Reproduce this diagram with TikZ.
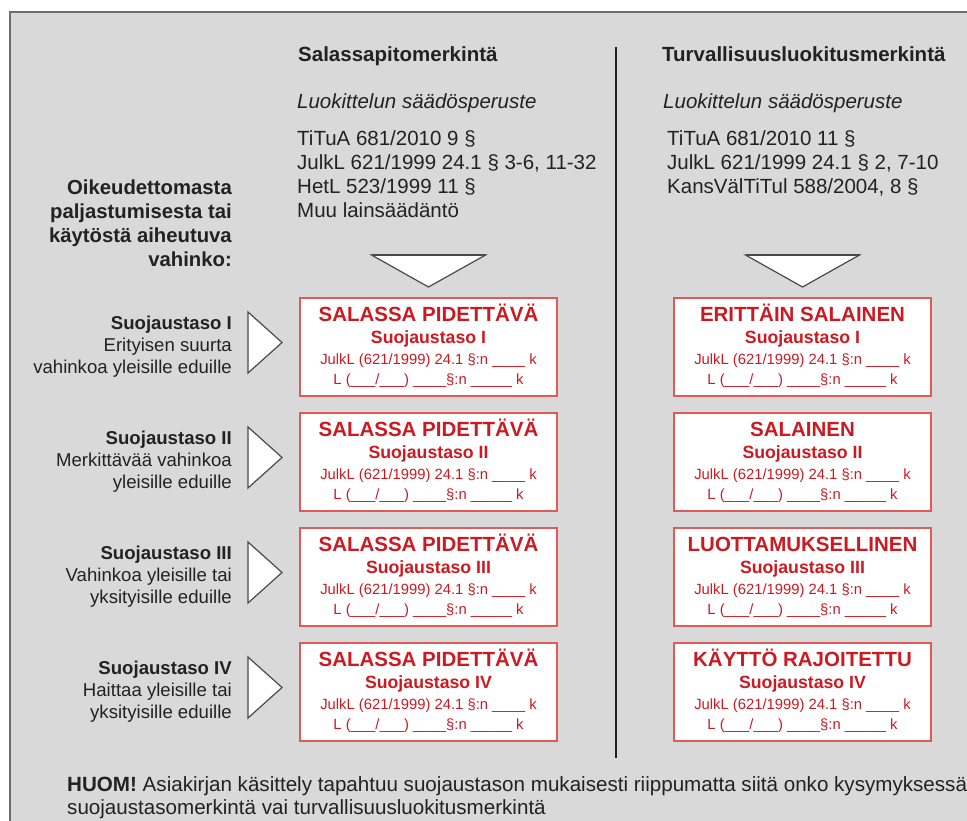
\documentclass[tikz,border=0pt]{standalone}
\usepackage{fontspec}
\setmainfont{Liberation Sans}
\usetikzlibrary{positioning, calc}
\definecolor{ink}{HTML}{222222}
\definecolor{panel}{HTML}{D9D9D9}
\definecolor{frame}{HTML}{6E6E6E}
\definecolor{stampink}{HTML}{CC1A22}
\definecolor{stampedge}{HTML}{E05A5A}
\definecolor{pointer}{HTML}{4A4A4A}
\tikzset{
  every node/.style={text=ink, inner sep=0pt},
  %
  head/.style={font=\fontsize{20.5}{24}\selectfont\bfseries, anchor=base west},
  basis/.style={font=\fontsize{20.5}{24}\selectfont, anchor=base west},
  harm/.style={font=\fontsize{20.3}{24}\selectfont\bfseries, anchor=base east},
  lvl/.style={font=\fontsize{18.6}{22}\selectfont, anchor=base east},
  note/.style={font=\fontsize{20.6}{24}\selectfont, anchor=base west},
  %
  stampbox/.style={draw=stampedge, line width=1.6pt, fill=white,
                   minimum width=257, minimum height=98},
  stamptitle/.style={font=\fontsize{20.5}{24}\selectfont\bfseries, text=stampink, anchor=base},
  stamplvl/.style={font=\fontsize{17.7}{20}\selectfont\bfseries, text=stampink, anchor=base},
  stampline/.style={font=\fontsize{14.8}{17}\selectfont, text=stampink, anchor=base},
  %
  pointer/.style={draw=pointer, line width=1.2pt, fill=white, line join=miter},
  pointertop/.style={draw=pointer, line width=2.6pt},
  divider/.style={draw=ink, line width=1.4pt},
}

\begin{document}
\begin{tikzpicture}[x=1pt, y=1pt]

  \def\L{428.5}  % left stamp column
  \def\R{802.5}  % right stamp column

  \useasboundingbox (0,0) rectangle (967,-821);
  \fill[white] (0,0) rectangle (967,-821);
  \fill[panel] (10,-12) rectangle (967,-821);
  \draw[frame, line width=2.4pt] (10,-821) -- (10,-12) -- (967,-12);

  % --- column heads ------------------------------------------------------
  \node[head] (hs) at (298,-62) {Salassapitomerkintä};
  \node[head] (ht) at (662,-62) {Turvallisuusluokitusmerkintä};
  \coordinate (dtop) at (616,-47);
  \coordinate (dbot) at (616,-758);
  \draw[divider] (dtop) -- (dbot);

  \node[basis, font=\fontsize{20.5}{24}\selectfont\itshape] (ls) at (297,-109) {Luokittelun säädösperuste};
  \node[basis, font=\fontsize{20.5}{24}\selectfont\itshape] (lt) at (663,-109) {Luokittelun säädösperuste};

  \foreach \t [count=\i] in {TiTuA 681/2010 9 §, {JulkL 621/1999 24.1 § 3-6, 11-32},
                             HetL 523/1999 11 §, Muu lainsäädäntö}
    \node[basis] (bs\i) at (297,{-146-23.7*(\i-1)}) {\t};
  \foreach \t [count=\i] in {TiTuA 681/2010 11 §, {JulkL 621/1999 24.1 § 2, 7-10},
                             {KansVälTiTul 588/2004, 8 §}}
    \node[basis] (bt\i) at (667,{-146-23.7*(\i-1)}) {\t};

  % --- funnels ------------------------------------------------------------
  \foreach \x in {\L,\R} {
    \draw[pointer] (\x-57,-255) -- (\x+57,-255) -- (\x,-287) -- cycle;
    \draw[pointertop] (\x-57,-255) -- (\x+57,-255);
  }

  % --- harm ---------------------------------------------------------------
  \foreach \t [count=\i] in {Oikeudettomasta, paljastumisesta tai, käytöstä aiheutuva, vahinko:}
    \node[harm] (h\i) at (232,{-195-24*(\i-1)}) {\t};

  % --- levels and stamps --------------------------------------------------
  \foreach \lv/\top/\rt/\ta/\tb in {I/298/ERITTÄIN SALAINEN/Erityisen suurta/vahinkoa yleisille eduille,
                                  II/413/SALAINEN/Merkittävää vahinkoa/yleisille eduille,
                                  III/528/LUOTTAMUKSELLINEN/Vahinkoa yleisille tai/yksityisille eduille,
                                  IV/643/KÄYTTÖ RAJOITETTU/Haittaa yleisille tai/yksityisille eduille} {
    \pgfmathsetmacro\c{\top+49}
    % label
    \node[lvl, font=\fontsize{18.6}{22}\selectfont\bfseries] (n\lv) at (232,{-\c+18}) {Suojaustaso \lv};
    \node[lvl] (a\lv) at (232,{-\c+18-22}) {\ta};
    \node[lvl] (b\lv) at (232,{-\c+18-44}) {\tb};
    \draw[pointer] (248,{-\c+35}) -- (282,{-\c+4.5}) -- (248,{-\c-26}) -- cycle;
    % stamps
    \foreach \col/\x/\tt in {s/\L/SALASSA PIDETTÄVÄ, t/\R/\rt} {
      \node[stampbox] (\col\lv) at (\x,-\c) {};
      \node[stamptitle] (\col\lv t) at ([yshift=-24]\col\lv.north) {\tt};
      \node[stamplvl]   (\col\lv l) at ([yshift=-46.5]\col\lv.north) {Suojaustaso \lv};
      \node[stampline]  (\col\lv a) at ([yshift=-67]\col\lv.north) {JulkL (621/1999) 24.1 §:n \_\_\_\_ k};
      \node[stampline]  (\col\lv b) at ([yshift=-87]\col\lv.north) {L (\_\_\_/\_\_\_) \_\_\_\_§:n \_\_\_\_\_ k};
    }
  }

  % --- note ---------------------------------------------------------------
  \node[note] (huom) at (67,-791) {\textbf{HUOM!} Asiakirjan käsittely tapahtuu suojaustason mukaisesti riippumatta siitä onko kysymyksessä};
  \node[note] (huom2) at (67,-814) {suojaustasomerkintä vai turvallisuusluokitusmerkintä};

\end{tikzpicture}
\end{document}
